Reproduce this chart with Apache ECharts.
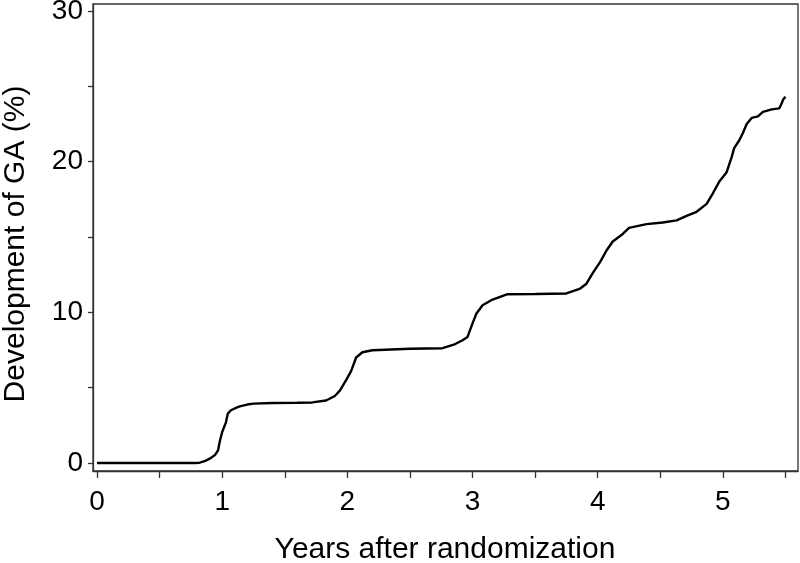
<!DOCTYPE html>
<html>
<head>
<meta charset="utf-8">
<script src="https://cdn.jsdelivr.net/npm/echarts@6/dist/echarts.min.js"></script>
<style>
html,body{margin:0;padding:0;background:#fff;}
#chart{width:800px;height:563px;}
</style>
</head>
<body>
<div id="chart"></div>
<script>
// Data
const years = [0, 0.78, 0.82, 0.86, 0.9, 0.94, 0.967, 0.98, 1.0, 1.03, 1.045, 1.07, 1.1, 1.14, 1.2, 1.25, 1.4, 1.6, 1.72, 1.83, 1.9, 1.94, 1.99, 2.03, 2.07, 2.12, 2.2, 2.3, 2.5, 2.76, 2.85, 2.92, 2.96, 3.0, 3.03, 3.08, 3.16, 3.28, 3.5, 3.75, 3.86, 3.91, 3.96, 4.02, 4.07, 4.12, 4.2, 4.25, 4.39, 4.52, 4.63, 4.71, 4.79, 4.87, 4.92, 4.97, 5.03, 5.07, 5.09, 5.13, 5.16, 5.19, 5.23, 5.28, 5.32, 5.39, 5.45, 5.47, 5.48, 5.5];
const gaPercent = [0, 0, 0.02, 0.12, 0.29, 0.51, 0.84, 1.4, 2.06, 2.7, 3.28, 3.5, 3.62, 3.76, 3.88, 3.94, 3.98, 4.0, 4.02, 4.15, 4.45, 4.8, 5.5, 6.1, 7.0, 7.35, 7.48, 7.52, 7.58, 7.62, 7.85, 8.15, 8.37, 9.27, 9.9, 10.47, 10.85, 11.2, 11.22, 11.25, 11.58, 11.9, 12.6, 13.35, 14.1, 14.7, 15.2, 15.6, 15.85, 15.96, 16.1, 16.4, 16.67, 17.2, 17.9, 18.66, 19.3, 20.3, 20.9, 21.4, 21.9, 22.5, 22.9, 23.0, 23.3, 23.47, 23.53, 23.87, 24.1, 24.3];
const xTicks = [0, 0.5, 1, 1.5, 2, 2.5, 3, 3.5, 4, 4.5, 5, 5.5];
const xLabels = [0, 1, 2, 3, 4, 5];
const yTicks = [0, 5, 10, 15, 20, 25, 30];
const yLabels = [0, 10, 20, 30];
const xTitle = 'Years after randomization';
const yTitle = 'Development of GA (%)';

const font = 'Liberation Sans, Arial, sans-serif';
const chart = echarts.init(document.getElementById('chart'), null, {renderer: 'canvas'});
chart.setOption({
  animation: false,
  backgroundColor: '#fff',
  grid: {
    left: 93, top: 4, right: 2, bottom: 92,
    show: true, borderColor: '#333', borderWidth: 1.3,
    outerBoundsMode: 'none'
  },
  graphic: [
    {type: 'text', x: 445, y: 550, style: {text: xTitle, font: '30px ' + font, fill: '#000', textAlign: 'center', textVerticalAlign: 'middle'}},
    {type: 'text', x: 16, y: 244, rotation: Math.PI / 2, style: {text: yTitle, font: '30px ' + font, fill: '#000', textAlign: 'center', textVerticalAlign: 'middle'}}
  ],
  xAxis: {
    type: 'value', min: -0.032, max: 5.6,
    axisLine: {show: true, onZero: false, lineStyle: {color: '#333', width: 1.3}},
    axisTick: {show: true, inside: false, length: 7, customValues: xTicks, lineStyle: {color: '#333', width: 1.3}},
    axisLabel: {customValues: xLabels, margin: 17, fontFamily: font, fontSize: 28, color: '#000'},
    splitLine: {show: false}
  },
  yAxis: {
    type: 'value', min: -0.53, max: 30.46,
    axisLine: {show: true, onZero: false, lineStyle: {color: '#333', width: 1.3}},
    axisTick: {show: true, inside: false, length: 5, customValues: yTicks, lineStyle: {color: '#333', width: 1.3}},
    axisLabel: {customValues: yLabels, margin: 10, fontFamily: font, fontSize: 28, color: '#000'},
    splitLine: {show: false}
  },
  series: [{
    type: 'line',
    data: years.map((t, i) => [t, gaPercent[i]]),
    showSymbol: false,
    lineStyle: {color: '#000', width: 2.4},
    itemStyle: {color: '#000'}
  }]
});
</script>
</body>
</html>
